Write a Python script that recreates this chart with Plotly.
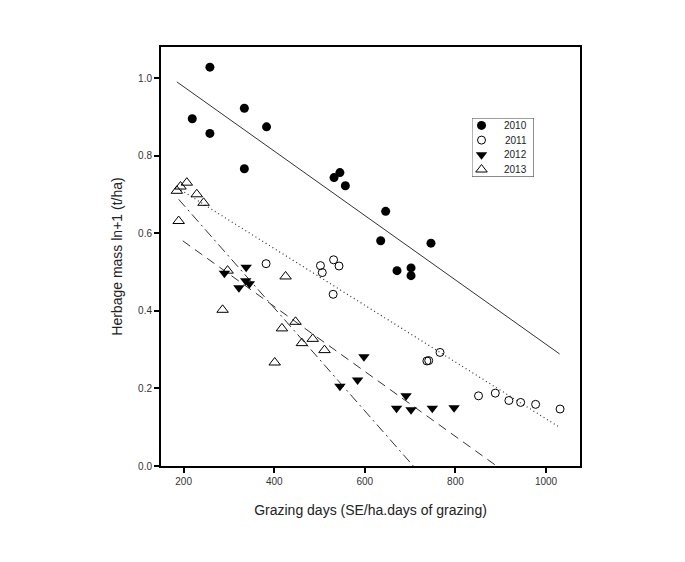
import plotly.graph_objects as go

# ---- data ----
x_2010 = [219, 258, 258, 334, 334, 383, 532, 545, 557, 635, 646, 671, 702, 702, 746]
y_2010 = [0.896, 1.029, 0.858, 0.923, 0.767, 0.875, 0.744, 0.757, 0.723, 0.581, 0.657, 0.504, 0.511, 0.491, 0.575]

x_2011 = [382, 502, 506, 531, 543, 530, 737, 741, 766, 851, 888, 918, 944, 977, 1031]
y_2011 = [0.522, 0.517, 0.499, 0.532, 0.516, 0.443, 0.271, 0.272, 0.293, 0.181, 0.188, 0.169, 0.164, 0.159, 0.147]

x_2012 = [290, 322, 338, 337, 345, 545, 584, 598, 670, 691, 702, 749, 797]
y_2012 = [0.497, 0.460, 0.513, 0.478, 0.470, 0.206, 0.222, 0.282, 0.149, 0.181, 0.145, 0.149, 0.150]

x_2013 = [185, 193, 207, 229, 244, 189, 297, 286, 425, 417, 447, 401, 461, 485, 511]
y_2013 = [0.710, 0.721, 0.731, 0.701, 0.679, 0.632, 0.504, 0.403, 0.489, 0.355, 0.372, 0.267, 0.317, 0.328, 0.299]

# regression line end points
fit_x_2010 = [185, 1030]
fit_y_2010 = [0.991, 0.289]
fit_x_2011 = [194, 1031]
fit_y_2011 = [0.712, 0.099]
fit_x_2012 = [198, 891]
fit_y_2012 = [0.581, 0.0]
fit_x_2013 = [189, 707]
fit_y_2013 = [0.688, 0.0]

series_names = ["2010", "2011", "2012", "2013"]
x_ticks = [200, 400, 600, 800, 1000]
y_ticks = [0.0, 0.2, 0.4, 0.6, 0.8, 1.0]
y_tick_labels = ["0.0", "0.2", "0.4", "0.6", "0.8", "1.0"]

FONT = "Liberation Sans, Arial, sans-serif"
LINE_COL = "#333333"

marker_styles = [
    dict(symbol="circle", size=9, color="black"),
    dict(symbol="circle-open", size=8, color="black", line=dict(width=1)),
    dict(symbol="triangle-down", size=10, color="black"),
    dict(symbol="triangle-up-open", size=10, color="black", line=dict(width=1)),
]

fig = go.Figure()

# fitted lines
fig.add_trace(go.Scatter(x=fit_x_2010, y=fit_y_2010, mode="lines", showlegend=False,
                         line=dict(color=LINE_COL, width=1, dash="solid"), hoverinfo="skip"))
fig.add_trace(go.Scatter(x=fit_x_2011, y=fit_y_2011, mode="lines", showlegend=False,
                         line=dict(color=LINE_COL, width=1.2, dash="1px,3px"), hoverinfo="skip"))
fig.add_trace(go.Scatter(x=fit_x_2012, y=fit_y_2012, mode="lines", showlegend=False,
                         line=dict(color=LINE_COL, width=1, dash="9px,6px"), hoverinfo="skip"))
fig.add_trace(go.Scatter(x=fit_x_2013, y=fit_y_2013, mode="lines", showlegend=False,
                         line=dict(color=LINE_COL, width=1, dash="10px,4px,2px,4px"), hoverinfo="skip"))

# data points
for xs, ys, name, ms in zip([x_2010, x_2011, x_2012, x_2013],
                            [y_2010, y_2011, y_2012, y_2013],
                            series_names, marker_styles):
    fig.add_trace(go.Scatter(x=xs, y=ys, mode="markers", name=name, marker=ms,
                             showlegend=False))

# compact legend drawn on a hidden helper axis (units: 0..1 across the box)
n = len(series_names)
for i, (name, ms) in enumerate(zip(series_names, marker_styles)):
    ry = 1 - (i + 0.5) / n
    fig.add_trace(go.Scatter(x=[0.155], y=[ry], mode="markers", marker=ms,
                             xaxis="x2", yaxis="y2", showlegend=False, hoverinfo="skip"))
    fig.add_annotation(x=0.92, y=ry, xref="x2", yref="y2", text=name, showarrow=False,
                       xanchor="right", yanchor="middle",
                       font=dict(size=10, family=FONT, color="#222"))
fig.add_shape(type="rect", xref="x2", yref="y2", x0=0, x1=1, y0=0, y1=1,
              line=dict(color="#444", width=1), fillcolor="rgba(0,0,0,0)", layer="above")

# page body has an 8px default margin -> compensate so plot area sits at 161..580 x 47..466
fig.update_layout(
    width=685, height=562,
    margin=dict(l=153, r=113, t=39, b=104),
    paper_bgcolor="white", plot_bgcolor="rgba(0,0,0,0)",
    font=dict(family=FONT, color="#222"),
    showlegend=False,
    xaxis=dict(range=[150, 1075], tickvals=x_ticks, ticks="outside", ticklen=5,
               tickwidth=1.5, tickcolor="black",
               showline=True, linecolor="black", linewidth=2, mirror=True,
               showgrid=False, zeroline=False,
               tickfont=dict(size=10, family=FONT, color="#333"),
               title=dict(text="Grazing days (SE/ha.days of grazing)",
                          font=dict(size=14, family=FONT, color="#222"), standoff=19)),
    yaxis=dict(range=[0, 1.081], tickvals=y_ticks, ticktext=y_tick_labels, ticks="outside",
               ticklen=5, tickwidth=1.5, tickcolor="black",
               showline=True, linecolor="black", linewidth=2, mirror=True,
               showgrid=False, zeroline=False,
               tickfont=dict(size=10, family=FONT, color="#333"),
               title=dict(text="Herbage mass ln+1 (t/ha)",
                          font=dict(size=14, family=FONT, color="#222"), standoff=12)),
    xaxis2=dict(domain=[0.742, 0.890], range=[0, 1], visible=False, anchor="y2",
                fixedrange=True),
    yaxis2=dict(domain=[0.690, 0.8305], range=[0, 1], visible=False, anchor="x2",
                fixedrange=True),
)

fig.write_html("out.html")
